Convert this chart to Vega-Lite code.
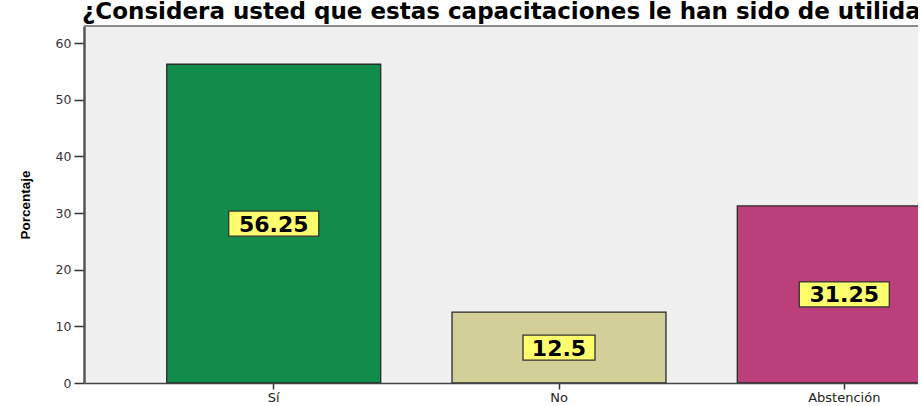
{
  "$schema": "https://vega.github.io/schema/vega-lite/v6.json",
  "autosize": {"type": "none"},
  "padding": {"left": 84, "top": 26, "right": 0, "bottom": 23},
  "width": 834,
  "height": 357,
  "background": "white",
  "title": {
    "text": "¿Considera usted que estas capacitaciones le han sido de utilidad?",
    "anchor": "start",
    "frame": "group",
    "dx": -2,
    "offset": -17,
    "baseline": "alphabetic",
    "font": "DejaVu Sans",
    "fontWeight": "bold",
    "fontSize": 23,
    "color": "#000000"
  },
  "data": {
    "values": [
      {"cat": "Sí", "val": 56.25},
      {"cat": "No", "val": 12.5},
      {"cat": "Abstención", "val": 31.25}
    ]
  },
  "encoding": {
    "x": {
      "field": "cat",
      "type": "nominal",
      "sort": ["Sí", "No", "Abstención"],
      "scale": {"type": "band", "domain": ["Sí", "No", "Abstención"], "range": [0, 950], "paddingInner": 0.25, "paddingOuter": 0.29},
      "axis": {
        "title": null,
        "labelAngle": 0,
        "tickSize": 6,
        "tickColor": "#333333",
        "tickWidth": 1.5,
        "labelFont": "DejaVu Sans",
        "labelFontSize": 13,
        "labelColor": "#222222",
        "labelPadding": 2,
        "domainColor": "#444444",
        "domainWidth": 1.5,
        "grid": false
      }
    }
  },
  "layer": [
    {
      "layer": [
        {
          "mark": {"type": "bar", "stroke": "#2a2a2a", "strokeWidth": 1.3, "clip": true, "opacity": 1},
          "encoding": {
            "y": {
              "field": "val",
              "type": "quantitative",
              "scale": {"domain": [0, 63], "nice": false},
              "axis": {
                "values": [0, 10, 20, 30, 40, 50, 60],
                "title": "Porcentaje",
                "titleFont": "Liberation Sans",
                "titleFontWeight": "bold",
                "titleFontSize": 13.5,
                "titleColor": "#000000",
                "titlePadding": 23,
                "tickSize": 10,
                "tickColor": "#333333",
                "tickWidth": 1.5,
                "labelFont": "DejaVu Sans",
                "labelFontSize": 12.5,
                "labelColor": "#333333",
                "labelPadding": 3,
                "domainColor": "#555555",
                "domainWidth": 2.5,
                "grid": false
              }
            },
            "color": {
              "field": "cat",
              "type": "nominal",
              "scale": {"domain": ["Sí", "No", "Abstención"], "range": ["#128c4a", "#d3cf98", "#bb3f7b"]},
              "legend": null
            }
          }
        },
        {
          "mark": {"type": "rule", "color": "#8a8a8a", "strokeWidth": 1.5},
          "encoding": {
            "x": {"value": 0},
            "x2": {"value": 834},
            "y": {"datum": 63, "type": "quantitative"}
          }
        }
      ]
    },
    {
      "layer": [
        {
          "mark": {"type": "point", "filled": true, "fill": "#ffff6e", "stroke": "#333333", "strokeWidth": 1.3, "opacity": 1, "size": 8100},
          "encoding": {
            "y": {"field": "val", "type": "quantitative", "scale": {"domain": [0, 126], "nice": false}, "axis": null},
            "shape": {
              "condition": {"test": "datum.cat === 'No'", "value": "M-0.8,-0.2778L0.8,-0.2778L0.8,0.2778L-0.8,0.2778Z"},
              "value": "M-1,-0.2778L1,-0.2778L1,0.2778L-1,0.2778Z"
            }
          }
        },
        {
          "mark": {"type": "text", "font": "DejaVu Sans", "fontWeight": "bold", "fontSize": 22, "color": "#000000", "baseline": "middle", "align": "center", "dy": 1},
          "encoding": {
            "y": {"field": "val", "type": "quantitative", "scale": {"domain": [0, 126], "nice": false}, "axis": null},
            "text": {"field": "val", "type": "nominal"}
          }
        }
      ]
    }
  ],
  "resolve": {"scale": {"y": "independent"}},
  "config": {
    "view": {"stroke": null, "fill": "#f0f0f0"}
  }
}
